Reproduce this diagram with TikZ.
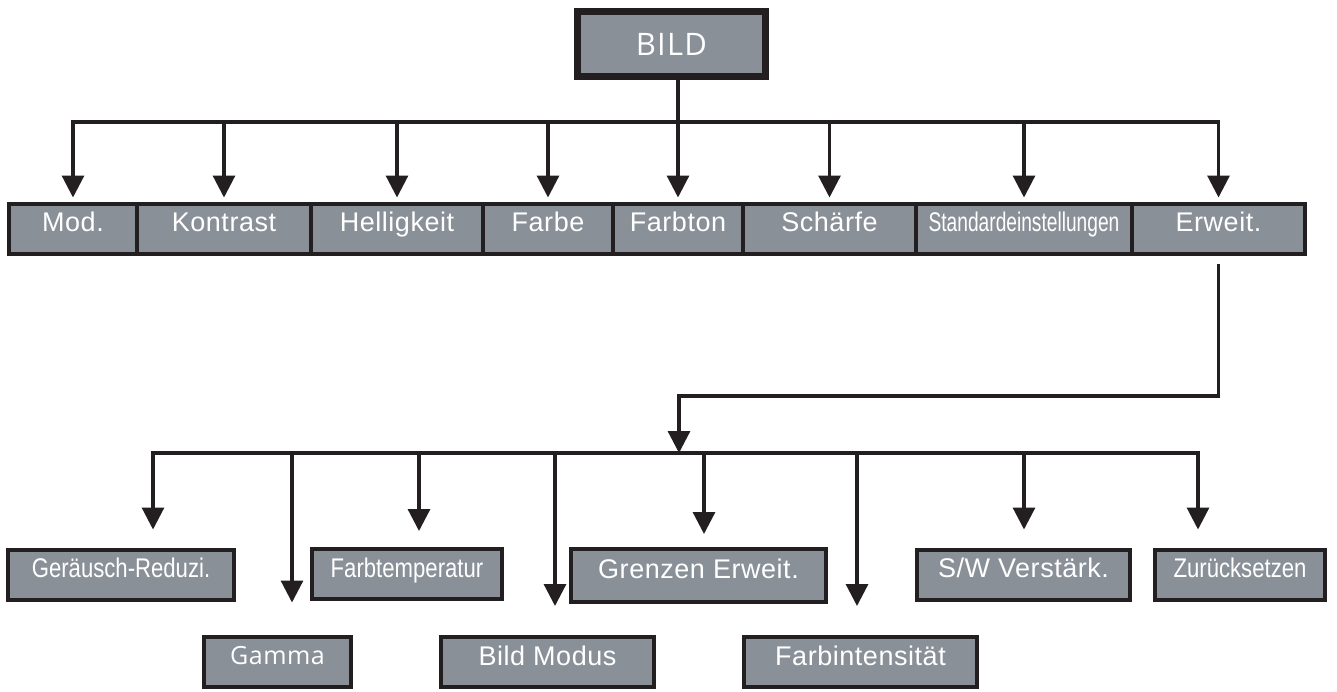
\documentclass[tikz,border=0pt]{standalone}
\usepackage{fontspec}
\usetikzlibrary{arrows.meta}
\newfontfamily\menufont[LetterSpace=2]{Liberation Sans}
\newfontfamily\slimfont[FakeStretch=0.82]{Liberation Sans}
\newfontfamily\slimmerfont[FakeStretch=0.71]{Liberation Sans}
\newfontfamily\titlefont[LetterSpace=4]{Open Sans}
\newfontfamily\gammafont[LetterSpace=2]{Open Sans}
\definecolor{panel}{HTML}{8A9098}
\definecolor{ink}{HTML}{231F20}
\tikzset{entry/.style = {draw=ink, line width=2pt, fill=panel, text=white, inner sep=0pt,
                         minimum height=25pt, text height=8pt, text depth=5pt,
                         font=\menufont\fontsize{13.5}{15}\selectfont}}
\tikzset{slim/.style = {font=\slimfont\fontsize{13.5}{15}\selectfont}}
\tikzset{slimmer/.style = {font=\slimmerfont\fontsize{13.5}{15}\selectfont}}
\tikzset{wire/.style = {draw=ink, line width=1.6pt, line cap=rect}}
\tikzset{pointer/.style = {draw=ink, line width=1.6pt, -{Triangle[width=11pt,length=11pt]}}}
\begin{document}
\begin{tikzpicture}[x=0.5pt, y=-0.5pt]
			\useasboundingbox (0, 0) rectangle (1337, 691);
			\node [entry, line width=3.5pt, minimum width=94pt, minimum height=32.5pt, text height=11pt, text depth=0pt, font=\titlefont\fontsize{15.5}{18}\selectfont] (bild) at (671.5, 44) {BILD};
			\node [entry, minimum width=64pt] (mod) at (73, 228.5) {Mod.};
			\node [entry, minimum width=87pt] (kontrast) at (224, 228.5) {Kontrast};
			\node [entry, minimum width=86pt] (hell) at (397, 228.5) {Helligkeit};
			\node [entry, minimum width=65pt] (farbe) at (548, 228.5) {Farbe};
			\node [entry, minimum width=65pt] (farbton) at (678, 228.5) {Farbton};
			\node [entry, minimum width=86.5pt] (schaerfe) at (829.5, 228.5) {Schärfe};
			\node [entry, slimmer, minimum width=108pt] (standard) at (1024, 228.5) {Standardeinstellungen};
			\node [entry, minimum width=86.5pt] (erweit) at (1218.5, 228.5) {Erweit.};
			\node [entry, slim, minimum width=113pt] (geraeusch) at (121, 574.5) {Geräusch-Reduzi.};
			\node [entry, font=\gammafont\fontsize{12.5}{15}\selectfont, minimum width=73.5pt] (gamma) at (277.5, 661.5) {Gamma};
			\node [entry, slim, minimum width=95pt] (farbtemp) at (407, 574) {Farbtemperatur};
			\node [entry, minimum width=106.5pt] (modus) at (547.5, 662) {Bild Modus};
			\node [entry, minimum width=127.5pt, minimum height=26.5pt] (grenzen) at (698.5, 575.5) {Grenzen Erweit.};
			\node [entry, minimum width=116.5pt] (intens) at (860.5, 662) {Farbintensität};
			\node [entry, minimum width=106.5pt] (sw) at (1023.5, 574.5) {S/W Verstärk.};
			\node [entry, slim, minimum width=85pt] (reset) at (1240, 574.5) {Zurücksetzen};
			\coordinate (bus) at (678, 122);
			\coordinate (knee) at (679, 396);
			\coordinate (split) at (679, 453);
			\coordinate (l1) at (153, 453);
			\coordinate (l2) at (292, 453);
			\coordinate (l3) at (419, 453);
			\coordinate (l4) at (555, 453);
			\coordinate (l5) at (704, 453);
			\coordinate (l6) at (857, 453);
			\coordinate (l7) at (1024, 453);
			\coordinate (l8) at (1198, 453);
			\draw [wire] (mod.north |- bus) to (erweit.north |- bus);
			\draw [pointer, shorten >=2pt] (bild.south -| farbton.north) to (farbton.north);
			\draw [pointer, shorten >=2pt] (mod.north |- bus) to (mod.north);
			\draw [pointer, shorten >=2pt] (kontrast.north |- bus) to (kontrast.north);
			\draw [pointer, shorten >=2pt] (hell.north |- bus) to (hell.north);
			\draw [pointer, shorten >=2pt] (farbe.north |- bus) to (farbe.north);
			\draw [pointer, shorten >=2pt] (schaerfe.north |- bus) to (schaerfe.north);
			\draw [pointer, shorten >=2pt] (standard.north |- bus) to (standard.north);
			\draw [pointer, shorten >=2pt] (erweit.north |- bus) to (erweit.north);
			\draw [pointer, shorten <=4pt] (erweit.south) |- (knee) to (split);
			\draw [wire] (l1) to (l8);
			\draw [pointer, shorten >=9pt] (l1) to (l1 |- geraeusch.north);
			\draw [pointer, shorten >=16pt] (l2) to (l2 |- gamma.north);
			\draw [pointer, shorten >=8pt] (l3) to (l3 |- farbtemp.north);
			\draw [pointer, shorten >=14.5pt] (l4) to (l4 |- modus.north);
			\draw [pointer, shorten >=6.5pt] (l5) to (l5 |- grenzen.north);
			\draw [pointer, shorten >=14.5pt] (l6) to (l6 |- intens.north);
			\draw [pointer, shorten >=9pt] (l7) to (l7 |- sw.north);
			\draw [pointer, shorten >=9pt] (l8) to (l8 |- reset.north);
		\end{tikzpicture}
\end{document}
